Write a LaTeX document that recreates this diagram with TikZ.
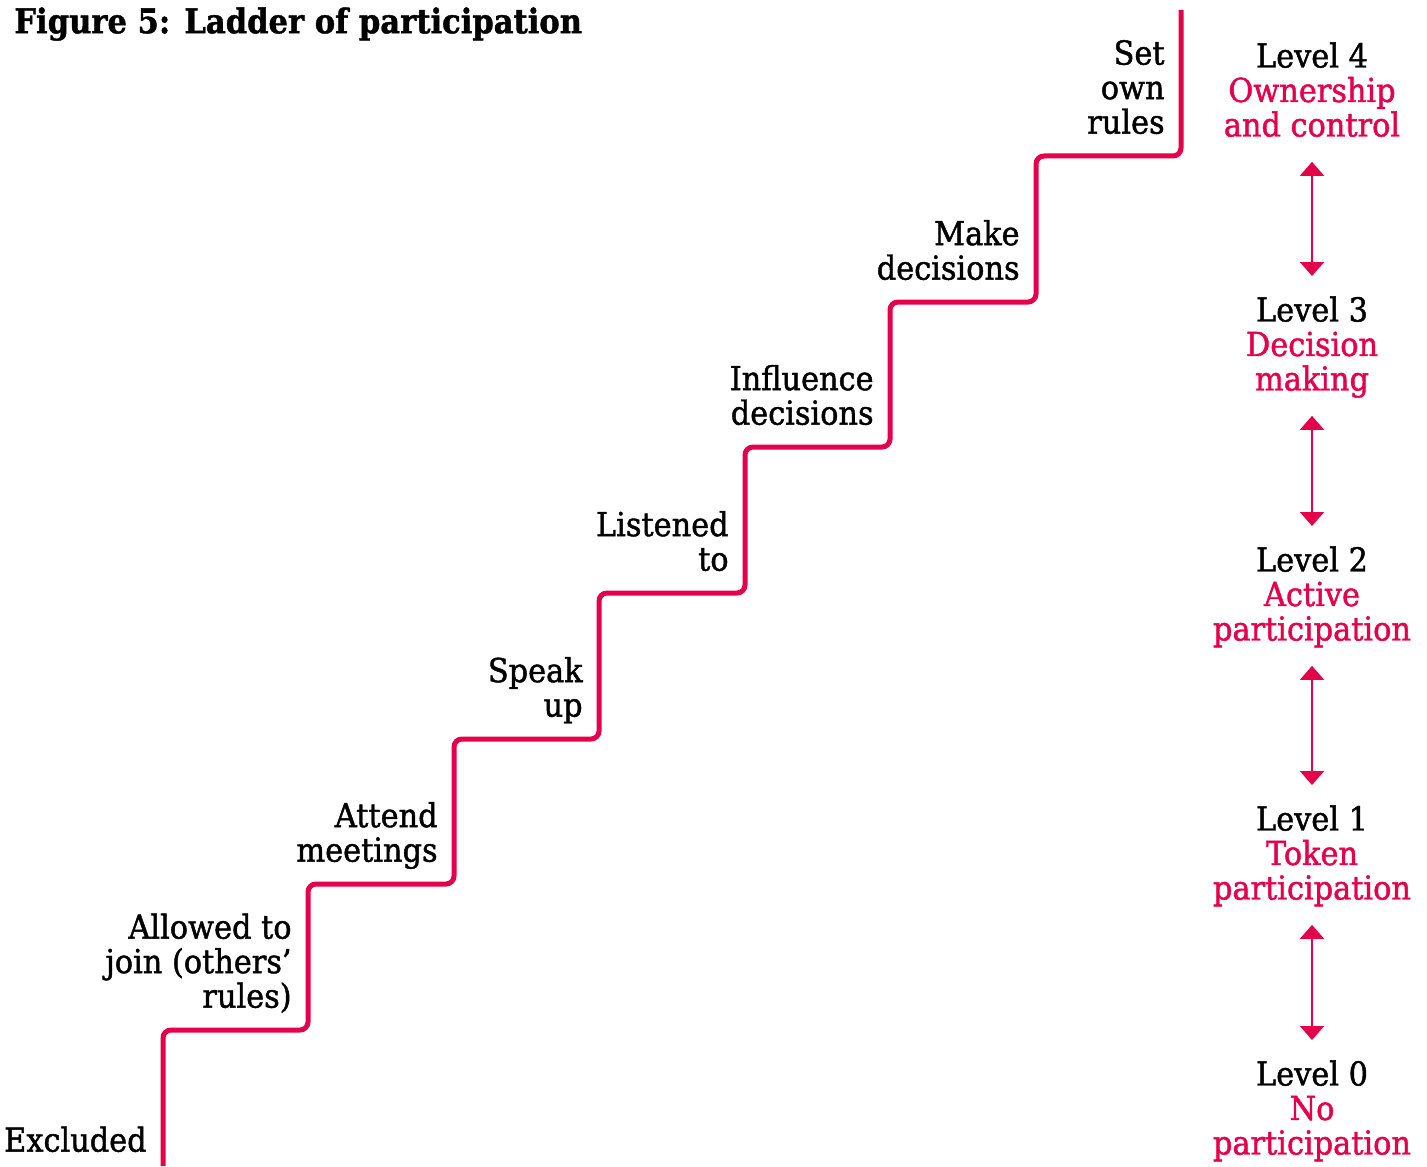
\documentclass[tikz,border=0pt]{standalone}
\usepackage{fontspec}
\setmainfont{DejaVu Serif}[FakeStretch=0.92, FakeBold=1.3]
\newfontfamily\titlefont{DejaVu Serif Bold}[FakeStretch=0.9, FakeBold=1.2]
\usepackage{xcolor}
\usepackage{tikz}
\usetikzlibrary{arrows.meta, positioning}
\definecolor{ladderRed}{HTML}{E4004B}
\newcommand{\ladderfont}{\fontsize{16.5}{17.25}\selectfont}

\begin{document}
\begin{tikzpicture}[x=0.5pt, y=-0.5pt,
        steptext/.style={anchor=south east, align=right, inner sep=0pt, text depth=0pt, font=\ladderfont},
        leveltext/.style={anchor=north, align=center, inner sep=0pt, text depth=0pt, font=\ladderfont},
        levelarrow/.style={draw=ladderRed, line width=1pt, shorten <=12.5pt, shorten >=10pt,
            {Triangle[width=12pt,length=7pt]}-{Triangle[width=12pt,length=7pt]}}]
        \useasboundingbox (0,0) rectangle (1427,1166);

        % title
        \node[anchor=north west, inner sep=0pt, font=\fontsize{17}{20}\titlefont] (title) at (14,7) {Figure 5: Ladder of participation};

        % the steps
        \draw[ladderRed, line width=2.5pt, rounded corners=4pt]
            (163,1166) -- (163,1030) -- (308,1030) -- (308,884) -- (454,884) -- (454,739)
            -- (599,739) -- (599,593) -- (745,593) -- (745,447) -- (890,447) -- (890,302)
            -- (1036,302) -- (1036,156) -- (1181,156) -- (1181,10);

        \node[steptext] (excluded) at (147,1152) {Excluded};
        \node[steptext] (allowed) at (292,1008) {Allowed to\\join (others’\\rules)};
        \node[steptext] (attend) at (438,862) {Attend\\meetings};
        \node[steptext] (speak) at (583,717) {Speak\\up};
        \node[steptext] (listened) at (729,571) {Listened\\to};
        \node[steptext] (influence) at (874,425) {Influence\\decisions};
        \node[steptext] (make) at (1020,280) {Make\\decisions};
        \node[steptext] (setrules) at (1165,134) {Set\\own\\rules};

        % levels
        \node[leveltext] (lvfour) at (1312,42) {Level 4\\\textcolor{ladderRed}{Ownership}\\\textcolor{ladderRed}{and control}};
        \node[leveltext] (lvthree) at (1312,296) {Level 3\\\textcolor{ladderRed}{Decision}\\\textcolor{ladderRed}{making}};
        \node[leveltext] (lvtwo) at (1312,546) {Level 2\\\textcolor{ladderRed}{Active}\\\textcolor{ladderRed}{participation}};
        \node[leveltext] (lvone) at (1312,805) {Level 1\\\textcolor{ladderRed}{Token}\\\textcolor{ladderRed}{participation}};
        \node[leveltext] (lvzero) at (1312,1060) {Level 0\\\textcolor{ladderRed}{No}\\\textcolor{ladderRed}{participation}};

        \draw[levelarrow] (lvfour.south) -- (lvthree.north);
        \draw[levelarrow] (lvthree.south) -- (lvtwo.north);
        \draw[levelarrow] (lvtwo.south) -- (lvone.north);
        \draw[levelarrow] (lvone.south) -- (lvzero.north);
\end{tikzpicture}
\end{document}
